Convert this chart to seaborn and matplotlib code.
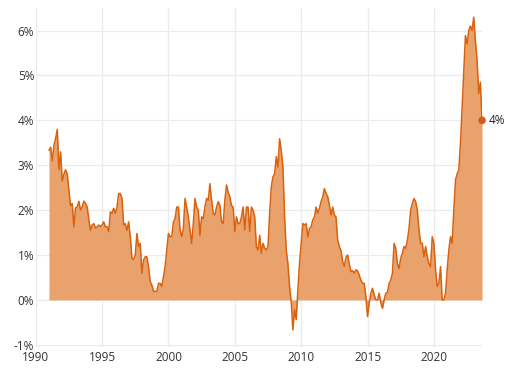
import numpy as np
import pandas as pd
import seaborn as sns
import matplotlib.pyplot as plt

# readings every 1.5 months (8 per year), starting Jan 1991
vals_1990s = [
    3.33, 3.4, 3.1, 3.45, 3.6, 3.8, 2.9, 3.3,
    2.65, 2.8, 2.9, 2.8, 2.45, 2.1, 2.15, 1.63,
    2.05, 2.07, 2.2, 2.0, 2.07, 2.2, 2.15, 2.07,
    1.8, 1.55, 1.67, 1.7, 1.6, 1.63, 1.67, 1.63,
    1.67, 1.74, 1.63, 1.63, 1.52, 1.96, 1.93, 2.04,
    1.93, 2.07, 2.37, 2.37, 2.26, 1.67, 1.7, 1.55,
    1.74, 1.41, 0.93, 0.9, 1.0, 1.48, 1.19, 1.26,
    0.59, 0.89, 0.96, 0.96, 0.74, 0.41, 0.33, 0.19,
    0.19, 0.19, 0.37, 0.37, 0.3, 0.52, 0.74, 1.1,
]
vals_2000s = [
    1.48, 1.41, 1.41, 1.74, 1.81, 2.07, 2.07, 1.56,
    1.41, 1.59, 2.26, 2.07, 1.85, 1.56, 1.26, 1.7,
    2.26, 2.07, 2.0, 1.44, 1.85, 1.81, 2.07, 2.26,
    2.22, 2.59, 2.22, 1.93, 1.89, 2.07, 2.19, 2.11,
    1.74, 1.7, 2.22, 2.56, 2.4, 2.3, 2.1, 2.07,
    1.52, 1.85, 1.7, 1.7, 1.85, 2.07, 1.56, 2.07,
    2.07, 1.52, 2.07, 2.0, 1.85, 1.19, 1.11, 1.44,
    1.04, 1.26, 1.15, 1.11, 1.19, 1.93, 2.52, 2.74,
    2.81, 3.19, 2.96, 3.59, 3.33, 2.96, 1.85, 1.11,
    0.81, 0.3, -0.04, -0.67, -0.22, -0.44, 0.22, 0.81,
]
vals_2010s = [
    1.26, 1.7, 1.67, 1.7, 1.41, 1.59, 1.63, 1.78,
    1.85, 2.07, 1.93, 2.04, 2.19, 2.3, 2.48, 2.37,
    2.3, 2.11, 1.89, 2.07, 1.89, 1.85, 1.33, 1.19,
    1.1, 0.85, 0.75, 0.95, 1.0, 0.8, 0.63, 0.65,
    0.6, 0.67, 0.65, 0.55, 0.44, 0.37, 0.37, 0.07,
    -0.37, -0.07, 0.15, 0.26, 0.11, 0.0, 0.0, 0.15,
    -0.07, -0.19, 0.0, 0.15, 0.17, 0.37, 0.44, 0.59,
    1.26, 1.15, 0.81, 0.7, 0.93, 1.04, 1.19, 1.15,
    1.33, 1.59, 2.0, 2.15, 2.26, 2.19, 2.0, 1.56,
    1.26, 1.26, 0.96, 1.19, 0.96, 0.81, 0.74, 1.41,
]
vals_2020s = [
    1.26, 0.67, 0.3, 0.37, 0.74, 0.0, 0.0, 0.15,
    0.67, 1.11, 1.41, 1.26, 2.0, 2.67, 2.81, 2.89,
    3.48, 4.3, 5.1, 5.89, 5.7, 6.0, 6.1, 6.0,
    6.3, 5.78, 5.35, 4.6, 4.85, 4.0,
]
start_year = 1991.0
step = 0.125

x_ticks = [1990, 1995, 2000, 2005, 2010, 2015, 2020]
y_ticks = [-1, 0, 1, 2, 3, 4, 5, 6]

values = vals_1990s + vals_2000s + vals_2010s + vals_2020s
df = pd.DataFrame({"year": start_year + step * np.arange(len(values)), "rate": values})

line_col = "#d9620f"
fill_col = "#e9a26b"
text_col = "#333333"

sns.set_style("whitegrid", {"grid.color": "#ebebeb", "axes.edgecolor": "white"})
plt.rcParams['font.family'] = ['Open Sans', 'DejaVu Sans']

fig = plt.figure(figsize=(5.05, 3.7), dpi=100)
ax = fig.add_axes([0.0707, 0.062, 0.8838, 0.916])

ax.fill_between(df["year"], df["rate"], 0, color=fill_col, linewidth=0)
sns.lineplot(data=df, x="year", y="rate", ax=ax, color=line_col, linewidth=1.1)
last = df.tail(1)
sns.scatterplot(data=last, x="year", y="rate", ax=ax, color="#d85a1a", s=30,
                edgecolor="none", clip_on=False, zorder=5)
ax.annotate(f"{last['rate'].iloc[0]:.0f}%", (last["year"].iloc[0], last["rate"].iloc[0]),
            xytext=(5, 0), textcoords="offset points", va="center", ha="left",
            fontsize=8.5, color="#222222", annotation_clip=False)

ax.set_xlim(1990, df["year"].iloc[-1])
ax.set_ylim(-1.05, 6.5)
ax.set_xticks(x_ticks)
ax.set_yticks(y_ticks)
ax.set_yticklabels([f"{v}%" for v in y_ticks])
ax.set_xlabel("")
ax.set_ylabel("")
ax.grid(True, color="#ebebeb", linewidth=0.9)
ax.tick_params(length=0, labelsize=8.5, colors=text_col)
ax.tick_params(axis="y", pad=1)
ax.tick_params(axis="x", pad=3)
for s in ax.spines.values():
    s.set_visible(False)

fig.savefig("out.png", dpi=100)
